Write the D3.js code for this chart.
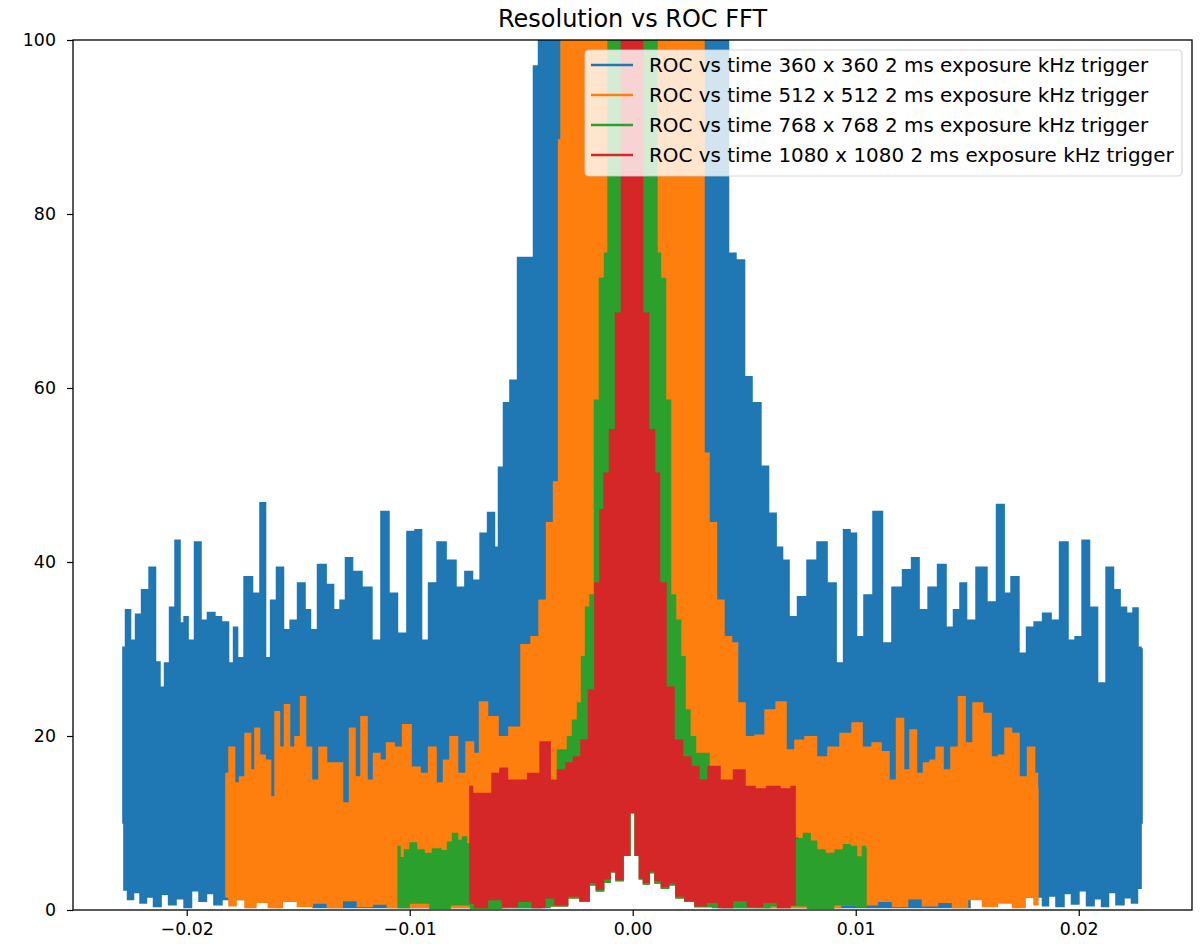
<!DOCTYPE html>
<html><head><meta charset="utf-8">
<script src="https://cdn.jsdelivr.net/npm/d3@7"></script>
<style>body{margin:0;background:#fff;} text{font-family:"DejaVu Sans",sans-serif;}</style>
</head><body><svg id="c" width="1204" height="944"></svg>
<script>
const seriesNames = [
  "ROC vs time 360 x 360 2 ms exposure kHz trigger",
  "ROC vs time 512 x 512 2 ms exposure kHz trigger",
  "ROC vs time 768 x 768 2 ms exposure kHz trigger",
  "ROC vs time 1080 x 1080 2 ms exposure kHz trigger"
];
const seriesColors = ["#1f77b4", "#ff7f0e", "#2ca02c", "#d62728"];
const xTicks = [-0.02, -0.01, 0.0, 0.01, 0.02];
const yTicks = [0, 20, 40, 60, 80, 100];

// peak (upper) envelope of each FFT trace, [frequency, magnitude]
const blueUpper = [[-0.02286,30.2],[-0.02263,34.5],[-0.02241,31.0],[-0.02218,34.0],[-0.02187,36.8],[-0.02151,39.4],[-0.02129,28.5],[-0.02111,25.6],[-0.02088,28.4],[-0.02066,34.8],[-0.02039,42.5],[-0.02021,33.0],[-0.02003,33.7],[-0.01985,31.0],[-0.01945,42.3],[-0.01927,33.3],[-0.01887,34.2],[-0.01860,33.7],[-0.01828,33.1],[-0.01797,28.4],[-0.01783,32.5],[-0.01761,29.0],[-0.01725,38.3],[-0.01685,36.4],[-0.01658,46.8],[-0.01635,29.0],[-0.01613,35.6],[-0.01582,39.4],[-0.01550,32.2],[-0.01523,33.3],[-0.01483,37.6],[-0.01456,34.5],[-0.01434,32.2],[-0.01393,39.7],[-0.01357,37.4],[-0.01326,34.5],[-0.01299,35.6],[-0.01277,40.5],[-0.01236,38.9],[-0.01192,37.1],[-0.01147,31.0],[-0.01111,45.8],[-0.01075,36.4],[-0.01035,31.8],[-0.00990,43.5],[-0.00963,43.7],[-0.00931,31.0],[-0.00900,37.6],[-0.00855,42.3],[-0.00819,40.2],[-0.00766,37.1],[-0.00739,38.9],[-0.00698,37.9],[-0.00671,43.3],[-0.00631,45.7],[-0.00609,41.7],[-0.00595,50.9],[-0.00564,58.3],[-0.00537,60.9],[-0.00496,75.0],[-0.00461,75.0],[-0.00429,97.0],[-0.00416,110],[0.00423,110],[0.00436,75.5],[0.00490,74.7],[0.00513,61.3],[0.00557,58.3],[0.00593,51.0],[0.00625,45.6],[0.00661,41.7],[0.00683,40.2],[0.00719,33.7],[0.00759,36.0],[0.00804,40.2],[0.00849,42.3],[0.00894,37.6],[0.00930,28.4],[0.00961,43.7],[0.00988,43.3],[0.01019,31.4],[0.01055,36.2],[0.01100,45.8],[0.01140,30.7],[0.01185,37.1],[0.01235,39.1],[0.01266,40.5],[0.01302,34.5],[0.01347,37.1],[0.01387,39.7],[0.01423,32.5],[0.01454,34.5],[0.01481,37.6],[0.01513,33.3],[0.01566,39.4],[0.01611,35.4],[0.01652,46.6],[0.01679,36.4],[0.01714,38.3],[0.01750,29.5],[0.01782,32.5],[0.01818,33.1],[0.01858,34.1],[0.01894,33.3],[0.01934,42.3],[0.01970,31.0],[0.01997,31.4],[0.02033,42.5],[0.02064,34.8],[0.02105,26.1],[0.02140,39.4],[0.02172,36.8],[0.02199,34.8],[0.02230,34.1],[0.02257,34.7],[0.02275,30.2],[0.02284,30.0]];
const orangeUpper = [[-0.01824,15.7],[-0.01797,18.7],[-0.01774,14.6],[-0.01752,15.3],[-0.01725,20.3],[-0.01703,16.1],[-0.01685,20.9],[-0.01662,17.8],[-0.01635,17.2],[-0.01613,13.0],[-0.01595,22.8],[-0.01573,18.7],[-0.01550,23.6],[-0.01528,18.7],[-0.01501,19.9],[-0.01478,24.5],[-0.01456,18.7],[-0.01425,14.9],[-0.01389,18.7],[-0.01357,16.9],[-0.01322,16.9],[-0.01281,12.3],[-0.01259,20.9],[-0.01232,15.3],[-0.01205,22.2],[-0.01178,14.9],[-0.01147,18.0],[-0.01120,17.2],[-0.01088,19.2],[-0.01052,18.7],[-0.01012,21.3],[-0.00976,16.4],[-0.00931,15.7],[-0.00900,18.7],[-0.00864,14.6],[-0.00833,17.2],[-0.00806,19.9],[-0.00765,15.7],[-0.00730,19.3],[-0.00698,18.0],[-0.00676,23.9],[-0.00626,22.2],[-0.00582,19.9],[-0.00528,21.0],[-0.00474,30.5],[-0.00438,31.4],[-0.00402,35.6],[-0.00371,44.5],[-0.00339,49.2],[-0.00326,88.5],[-0.00317,110],[0.00315,110],[0.00324,52.5],[0.00360,44.5],[0.00391,35.6],[0.00427,31.4],[0.00459,30.7],[0.00481,23.8],[0.00526,19.9],[0.00571,20.1],[0.00616,23.0],[0.00670,23.9],[0.00705,18.4],[0.00750,19.5],[0.00795,19.9],[0.00853,17.6],[0.00898,18.7],[0.00961,20.3],[0.01006,21.5],[0.01051,18.7],[0.01096,19.2],[0.01131,18.2],[0.01167,14.9],[0.01199,22.0],[0.01230,16.1],[0.01257,20.7],[0.01288,15.7],[0.01320,16.9],[0.01347,17.2],[0.01374,18.7],[0.01409,16.1],[0.01445,18.7],[0.01477,24.5],[0.01504,19.2],[0.01548,23.8],[0.01589,22.6],[0.01625,17.6],[0.01656,17.8],[0.01683,20.9],[0.01714,20.3],[0.01750,15.3],[0.01791,18.7],[0.01813,15.7],[0.01817,14.0]];
const greenUpper = [[-0.01052,7.3],[-0.01035,6.0],[-0.01012,6.9],[-0.00985,7.7],[-0.00954,6.9],[-0.00918,6.5],[-0.00878,7.0],[-0.00842,6.8],[-0.00819,7.8],[-0.00797,8.8],[-0.00774,8.0],[-0.00752,8.4],[-0.00739,7.6],[-0.00640,12],[-0.00505,13],[-0.00371,14],[-0.00304,18.4],[-0.00281,19.9],[-0.00259,21.8],[-0.00236,23.8],[-0.00223,29.1],[-0.00200,34.8],[-0.00183,36.2],[-0.00160,58.6],[-0.00138,72.6],[-0.00115,75.5],[-0.00106,110],[0.00104,110],[0.00113,75.5],[0.00136,72.6],[0.00158,58.6],[0.00181,36.2],[0.00203,33.3],[0.00226,29.1],[0.00243,23.0],[0.00270,19.9],[0.00293,18.0],[0.00391,14],[0.00526,13],[0.00661,12],[0.00728,8.3],[0.00750,8.2],[0.00782,8.8],[0.00809,7.9],[0.00840,6.9],[0.00885,6.5],[0.00930,6.9],[0.00961,7.5],[0.00988,7.3],[0.01019,6.1],[0.01042,7.3],[0.01046,7.0]];
const redUpper = [[-0.00730,14.2],[-0.00707,13.4],[-0.00653,13.4],[-0.00609,15.7],[-0.00582,16.3],[-0.00541,14.9],[-0.00496,14.9],[-0.00447,15.7],[-0.00384,19.3],[-0.00357,14.9],[-0.00317,16.1],[-0.00281,16.9],[-0.00250,17.6],[-0.00214,19.5],[-0.00183,25.3],[-0.00156,37.6],[-0.00138,46.0],[-0.00120,50.2],[-0.00088,55.2],[-0.00066,68.6],[-0.00035,110],[0.00033,110],[0.00055,68.6],[0.00087,55.2],[0.00109,50.2],[0.00131,37.6],[0.00167,25.6],[0.00203,19.5],[0.00243,17.6],[0.00279,16.5],[0.00315,14.9],[0.00360,16.5],[0.00423,14.9],[0.00481,16.1],[0.00526,14.2],[0.00571,13.9],[0.00629,14.2],[0.00692,13.9],[0.00728,14.2]];

// trough (lower) envelope of each FFT trace, [frequency, magnitude]
const blueLower = [[-0.02286,10],[-0.02277,2.3],[-0.02254,1.2],[-0.02223,2.0],[-0.02196,0.8],[-0.02165,1.5],[-0.02133,0.4],[-0.02097,1.8],[-0.02066,0.6],[-0.02030,1.3],[-0.01994,0.3],[-0.01963,2.2],[-0.01927,1.0],[-0.01896,1.9],[-0.01860,0.6],[-0.01824,1.2],[-0.01043,0.3],[-0.00416,0.3],[-0.00326,0.5],[-0.00259,1.4],[-0.00214,1.0],[-0.00178,2.9],[-0.00147,2.2],[-0.00115,3.2],[-0.00088,4.4],[-0.00061,3.4],[-0.00026,6.3],[-0.00001,11.2],[0.00024,6.3],[0.00037,3.6],[0.00060,3.0],[0.00087,4.3],[0.00113,3.1],[0.00145,2.5],[0.00176,2.9],[0.00212,1.4],[0.00257,1.0],[0.00302,0.4],[0.00414,0.3],[0.01199,0.3],[0.01826,1.5],[0.01849,0.5],[0.01880,1.6],[0.01916,0.4],[0.01952,1.9],[0.01983,0.7],[0.02019,2.2],[0.02051,0.5],[0.02087,1.3],[0.02118,0.4],[0.02149,2.0],[0.02185,0.6],[0.02221,1.4],[0.02252,0.8],[0.02275,2.5],[0.02284,10]];
const orangeLower = [[-0.01824,1.5],[-0.01797,0.5],[-0.01761,1.2],[-0.01716,0.3],[-0.01663,0.9],[-0.01605,0.3],[-0.01538,1.0],[-0.01470,0.4],[-0.01403,0.8],[-0.01336,0.3],[-0.01269,1.1],[-0.01201,0.4],[-0.01134,0.7],[-0.01067,0.3],[-0.00800,0.3],[-0.00326,0.5],[-0.00259,1.4],[-0.00214,1.0],[-0.00178,2.9],[-0.00147,2.2],[-0.00115,3.2],[-0.00088,4.4],[-0.00061,3.4],[-0.00026,6.3],[-0.00001,11.2],[0.00024,6.3],[0.00037,3.6],[0.00060,3.0],[0.00087,4.3],[0.00113,3.1],[0.00145,2.5],[0.00176,2.9],[0.00212,1.4],[0.00257,1.0],[0.00302,0.4],[0.00800,0.3],[0.01064,0.6],[0.01131,1.0],[0.01199,0.4],[0.01266,1.3],[0.01333,0.5],[0.01400,0.9],[0.01468,0.3],[0.01535,1.2],[0.01602,0.4],[0.01669,0.8],[0.01737,0.3],[0.01782,1.5],[0.01817,0.6]];
const greenLower = [[-0.01052,0.3],[-0.00954,0.8],[-0.00864,0.2],[-0.00774,0.6],[-0.00680,0.2],[-0.00500,0.3],[-0.00326,0.5],[-0.00259,1.4],[-0.00214,1.0],[-0.00178,2.9],[-0.00147,2.2],[-0.00115,3.2],[-0.00088,4.4],[-0.00061,3.4],[-0.00026,6.3],[-0.00001,11.2],[0.00024,6.3],[0.00037,3.6],[0.00060,3.0],[0.00087,4.3],[0.00113,3.1],[0.00145,2.5],[0.00176,2.9],[0.00212,1.4],[0.00257,1.0],[0.00302,0.4],[0.00500,0.3],[0.00728,0.5],[0.00840,0.2],[0.00961,0.6],[0.01046,0.4]];
const redLower = [[-0.00730,0.8],[-0.00685,0.3],[-0.00618,1.2],[-0.00551,0.4],[-0.00484,1.0],[-0.00417,0.3],[-0.00372,1.4],[-0.00326,0.6],[-0.00259,1.6],[-0.00214,1.1],[-0.00178,3.2],[-0.00147,2.4],[-0.00115,3.6],[-0.00088,4.5],[-0.00061,3.5],[-0.00026,6.3],[-0.00001,11.2],[0.00024,6.3],[0.00037,3.7],[0.00060,3.2],[0.00087,4.5],[0.00113,3.4],[0.00145,2.7],[0.00176,3.1],[0.00212,1.6],[0.00257,1.1],[0.00302,0.5],[0.00356,0.9],[0.00414,0.3],[0.00481,1.1],[0.00548,0.4],[0.00616,0.9],[0.00683,0.3],[0.00728,0.6]];

const uppers = [blueUpper, orangeUpper, greenUpper, redUpper];
const lowers = [blueLower, orangeLower, greenLower, redLower];

const svg = d3.select("#c");
const L = 73, R = 1192, T = 40, B = 910;
const x = d3.scaleLinear().domain([-0.02510, 0.02508]).range([L, R]);
const y = d3.scaleLinear().domain([0, 100]).range([B, T]);

svg.append("defs").append("clipPath").attr("id", "clip")
  .append("rect").attr("x", L).attr("y", T).attr("width", R - L).attr("height", B - T);

const line = d3.line().x(d => x(d[0])).y(d => y(d[1])).curve(d3.curveStep);
const plot = svg.append("g").attr("clip-path", "url(#clip)");
uppers.forEach((up, i) => {
  const lo = lowers[i].slice().reverse();
  const d = line(up) + "L" + line(lo).slice(1) + "Z";
  plot.append("path").attr("d", d)
    .attr("fill", seriesColors[i]).attr("stroke", seriesColors[i])
    .attr("stroke-width", 1.5).attr("stroke-linejoin", "miter");
});

// axes
const fmtX = d => d3.format(".2f")(d);
const xAxis = svg.append("g").attr("transform", `translate(0,${B})`)
  .call(d3.axisBottom(x).tickValues(xTicks).tickFormat(fmtX).tickSize(6).tickPadding(7));
const yAxis = svg.append("g").attr("transform", `translate(${L},0)`)
  .call(d3.axisLeft(y).tickValues(yTicks).tickFormat(d3.format("d")).tickSize(6).tickPadding(11));
[xAxis, yAxis].forEach(g => {
  g.select(".domain").remove();
  g.selectAll("line").attr("stroke", "#000").attr("stroke-width", 1.2);
  g.selectAll("text").attr("font-size", "17.4px").attr("fill", "#000")
    .attr("font-family", "DejaVu Sans");
});
svg.append("rect").attr("x", L).attr("y", T).attr("width", R - L).attr("height", B - T)
  .attr("fill", "none").attr("stroke", "#000").attr("stroke-width", 1.3);

// title
svg.append("text").attr("x", (L + R) / 2).attr("y", 27).attr("text-anchor", "middle")
  .attr("font-size", "24px").attr("fill", "#000").text("Resolution vs ROC FFT");

// legend
const lg = svg.append("g");
lg.append("rect").attr("x", 585).attr("y", 50).attr("width", 597).attr("height", 126)
  .attr("rx", 4).attr("fill", "#fff").attr("fill-opacity", 0.8)
  .attr("stroke", "#cccccc").attr("stroke-opacity", 0.8).attr("stroke-width", 1.2);
seriesNames.forEach((n, i) => {
  const yy = 65 + i * 30;
  lg.append("line").attr("x1", 591).attr("x2", 633).attr("y1", yy).attr("y2", yy)
    .attr("stroke", seriesColors[i]).attr("stroke-width", 2.6);
  lg.append("text").attr("x", 649).attr("y", yy + 7).attr("font-size", "19.9px")
    .attr("fill", "#000").text(n);
});
</script></body></html>
